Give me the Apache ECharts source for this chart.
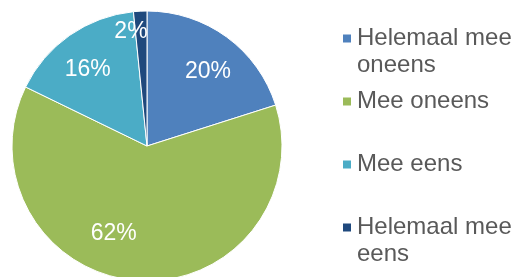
<!DOCTYPE html>
<html>
<head>
<meta charset="utf-8">
<script src="https://cdn.jsdelivr.net/npm/echarts@6/dist/echarts.min.js"></script>
<style>
html, body { margin: 0; padding: 0; background: #fff; }
#chart { width: 517px; height: 277px; }
</style>
</head>
<body>
<div id="chart"></div>
<script>
var categories = ['Helemaal mee oneens', 'Mee oneens', 'Mee eens', 'Helemaal mee eens'];
var legendLabels = ['Helemaal mee\noneens', 'Mee oneens', 'Mee eens', 'Helemaal mee\neens'];
var values = [20.1, 62.1, 16.2, 1.6];
var colors = ['#4F81BD', '#9BBB59', '#4BACC6', '#1F497D'];

// nudges for the percentage labels, like the hand placed ones in the original
var labelShift = [[2, 6], [-26, -12], [-2, 6], [-11, -14]];

var pieData = categories.map(function (c, i) {
    return { name: c, value: values[i], itemStyle: { color: colors[i] } };
});

var labelData = categories.map(function (c, i) {
    return { name: c, value: values[i] };
});

var chart = echarts.init(document.getElementById('chart'));
chart.setOption({
    animation: false,
    color: colors,
    legend: {
        orient: 'vertical',
        left: 341,
        top: -2,
        padding: 0,
        itemGap: -18,
        itemWidth: 10,
        itemHeight: 10,
        icon: 'rect',
        selectedMode: false,
        data: categories,
        // blank lines keep the marker level with the first line of text
        formatter: function (name) {
            var t = legendLabels[categories.indexOf(name)];
            return t.indexOf('\n') >= 0 ? ' \n' + t : ' \n' + t + '\n ';
        },
        textStyle: {
            color: '#595959',
            fontFamily: 'Liberation Sans',
            fontSize: 24,
            lineHeight: 27
        }
    },
    series: [{
        type: 'pie',
        center: [147, 146],
        radius: [0, 135],
        startAngle: 90,
        clockwise: true,
        silent: true,
        data: pieData,
        itemStyle: { borderColor: '#fff', borderWidth: 1 },
        label: { show: false },
        labelLine: { show: false }
    }, {
        // label-only copy of the slices; its larger radius moves the inside labels outward
        type: 'pie',
        center: [147, 146],
        radius: [0, 194],
        startAngle: 90,
        clockwise: true,
        silent: true,
        z: 5,
        data: labelData,
        itemStyle: { color: 'rgba(0,0,0,0)' },
        labelLine: { show: false },
        label: {
            show: true,
            position: 'inside',
            color: '#fff',
            fontFamily: 'Liberation Sans',
            fontSize: 23,
            formatter: function (p) {
                return Math.round(p.percent) + '%';
            }
        },
        labelLayout: function (p) {
            return { dx: labelShift[p.dataIndex][0], dy: labelShift[p.dataIndex][1] };
        }
    }]
});
</script>
</body>
</html>
